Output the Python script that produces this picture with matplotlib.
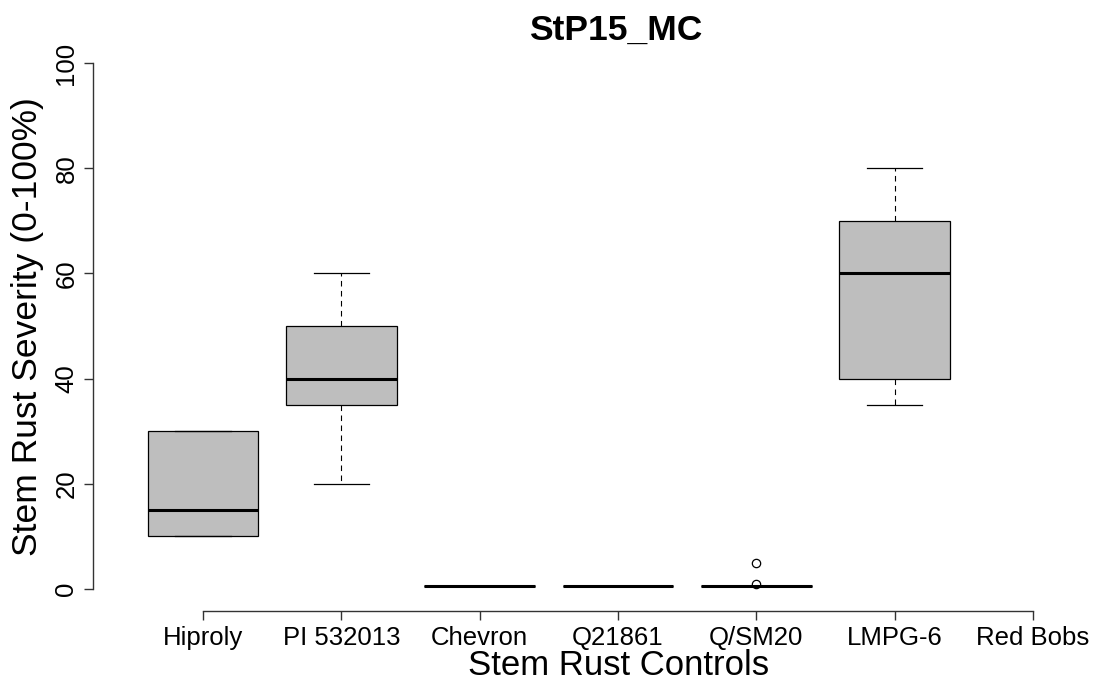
import matplotlib
matplotlib.use("Agg")
import matplotlib.pyplot as plt

plt.rcParams['font.family'] = ['Liberation Sans', 'DejaVu Sans']

categories = ["Hiproly", "PI 532013", "Chevron", "Q21861", "Q/SM20", "LMPG-6", "Red Bobs"]
# Box statistics (Red Bobs has no data)
medians = [15, 40, 0.5, 0.5, 0.5, 60]
q1 = [10, 35, 0.5, 0.5, 0.5, 40]
q3 = [30, 50, 0.5, 0.5, 0.5, 70]
whislo = [10, 20, 0.5, 0.5, 0.5, 35]
whishi = [30, 60, 0.5, 0.5, 0.5, 80]
fliers = [[], [], [], [], [1, 5], []]
yticks = [0, 20, 40, 60, 80, 100]

W, H = 1099, 685
fig = plt.figure(figsize=(W / 100, H / 100), dpi=100)
ax = fig.add_axes([93 / W, (H - 611) / H, (W - 93) / W, (611 - 42) / H])

stats = []
for i in range(len(medians)):
    stats.append(dict(med=medians[i], q1=q1[i], q3=q3[i], whislo=whislo[i],
                      whishi=whishi[i], fliers=fliers[i], label=categories[i]))

positions = list(range(1, len(medians) + 1))
ax.bxp(stats, positions=positions, widths=0.8, patch_artist=True,
       capwidths=0.4,
       boxprops=dict(facecolor='#BEBEBE', edgecolor='black', linewidth=0.9),
       medianprops=dict(color='black', linewidth=2.2, solid_capstyle='butt'),
       whiskerprops=dict(color='black', linewidth=0.8, linestyle=(0, (5, 4))),
       capprops=dict(color='black', linewidth=0.9),
       flierprops=dict(marker='o', markerfacecolor='none', markeredgecolor='black',
                       markersize=6, markeredgewidth=0.9))

ax.set_xlim(0.205, 7.477)
ax.set_ylim(-4.18, 104)

ax.set_xticks(range(1, len(categories) + 1))
ax.set_xticklabels(categories, fontsize=18.5)
ax.set_yticks(yticks)
ax.set_yticklabels([str(v) for v in yticks], fontsize=18.5, rotation=90, va='center')

for s in ['top', 'right']:
    ax.spines[s].set_visible(False)
ax.spines['left'].set_bounds(0, 100)
ax.spines['bottom'].set_bounds(1, 7)
for s in ['left', 'bottom']:
    ax.spines[s].set_color('#333333')
    ax.spines[s].set_linewidth(1.0)
ax.tick_params(axis='both', length=6.5, width=1.0, color='#333333', pad=4)
ax.patch.set_visible(False)

fig.text(616 / W, 1 - 30 / H, "StP15_MC", ha='center', va='center',
         fontsize=25.5, fontweight='bold')
fig.text(619 / W, 1 - 675 / H, "Stem Rust Controls", ha='center', va='baseline',
         fontsize=25)
fig.text(28 / W, 1 - 326.5 / H, "Stem Rust Severity (0-100%)", ha='center',
         va='center', rotation=90, fontsize=25.5)

fig.savefig("out.png", dpi=100)
